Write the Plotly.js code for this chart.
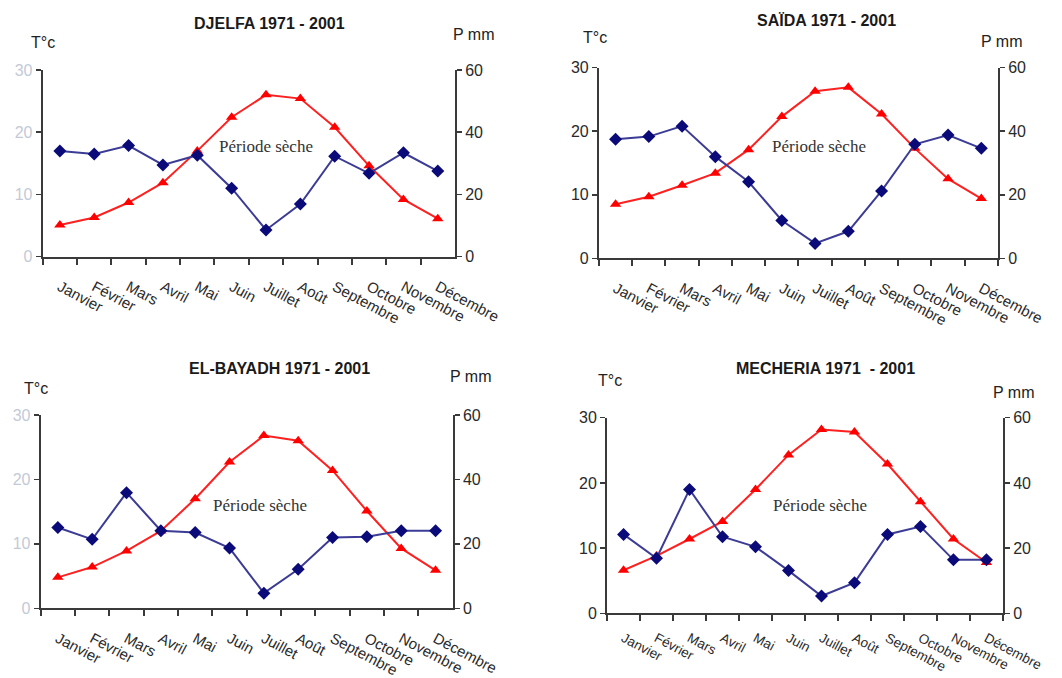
<!DOCTYPE html>
<html>
<head>
<meta charset="utf-8">
<script src="https://cdn.plot.ly/plotly-3.0.1.min.js"></script>
<style>html,body{margin:0;padding:0;background:#fff;}#chart{width:1062px;height:678px;}</style>
</head>
<body>
<div id="chart"></div>
<script>
const months = ["Janvier","Février","Mars","Avril","Mai","Juin","Juillet","Août","Septembre","Octobre","Novembre","Décembre"];

const titles = ["DJELFA 1971 - 2001","SAÏDA 1971 - 2001","EL-BAYADH 1971 - 2001","MECHERIA 1971  - 2001"];

// Temperature (°C, left axis)
const tempDjelfa   = [5.1, 6.3, 8.7, 11.9, 17.0, 22.4, 26.0, 25.4, 20.8, 14.6, 9.2, 6.1];
const tempSaida    = [8.5, 9.7, 11.5, 13.4, 17.1, 22.3, 26.3, 26.9, 22.7, 17.3, 12.5, 9.4];
const tempElBayadh = [4.8, 6.4, 8.9, 12.0, 17.0, 22.7, 26.8, 26.0, 21.4, 15.1, 9.3, 5.9];
const tempMecheria = [6.6, 8.8, 11.4, 14.1, 19.0, 24.3, 28.2, 27.8, 22.9, 17.1, 11.4, 7.8];

// Precipitation (mm, right axis)
const precDjelfa   = [34.0, 33.0, 35.7, 29.5, 32.6, 22.0, 8.6, 16.9, 32.3, 26.8, 33.4, 27.5];
const precSaida    = [37.5, 38.3, 41.6, 32.0, 24.1, 11.9, 4.7, 8.5, 21.2, 35.9, 38.8, 34.6];
const precElBayadh = [25.1, 21.4, 35.9, 24.1, 23.5, 18.7, 4.7, 12.1, 22.0, 22.2, 24.1, 24.1];
const precMecheria = [24.2, 16.9, 38.0, 23.5, 20.4, 13.1, 5.3, 9.4, 24.2, 26.6, 16.4, 16.4];

const tempTicks = [0, 10, 20, 30];
const precTicks = [0, 20, 40, 60];

const temps = [tempDjelfa, tempSaida, tempElBayadh, tempMecheria];
const precs = [precDjelfa, precSaida, precElBayadh, precMecheria];

// panel geometry (paper fractions)
const panels = [
  {x:[0.0402,0.4284], y:[0.6214,0.8968], leftCol:'#c3cad6', mSize:15, mStand:14,
   title:[0.254,0.966], tc:[0.0405,0.9366], pmm:[0.4463,0.9484], ps:[0.2505,0.7832]},
  {x:[0.5640,0.9397], y:[0.6190,0.9002], leftCol:'#2a2a2a', mSize:15, mStand:14,
   title:[0.778,0.970], tc:[0.5603,0.9454], pmm:[0.9435,0.9395], ps:[0.7712,0.7832]},
  {x:[0.0383,0.4263], y:[0.1028,0.3879], leftCol:'#c3cad6', mSize:15, mStand:14,
   title:[0.263,0.456], tc:[0.0339,0.4277], pmm:[0.4435,0.4440], ps:[0.2448,0.2537]},
  {x:[0.5716,0.9444], y:[0.0954,0.3839], leftCol:'#2a2a2a', mSize:13.5, mStand:10,
   title:[0.777,0.456], tc:[0.5744,0.4381], pmm:[0.9539,0.4218], ps:[0.7721,0.2537]}
];

const data = [];
const layout = {
  width:1062, height:678,
  margin:{l:0,r:0,t:0,b:0},
  paper_bgcolor:'#fff', plot_bgcolor:'rgba(0,0,0,0)',
  showlegend:false,
  font:{family:'Liberation Sans, Arial, sans-serif', color:'#2a2a2a'},
  annotations:[]
};

const axisLine = '#3a3a3a';

panels.forEach((p, i) => {
  const xa = 'x' + (i+1);
  const yl = 'y' + (2*i+1);
  const yr = 'y' + (2*i+2);
  const xKey = 'xaxis' + (i+1);
  const ylKey = 'yaxis' + (2*i+1);
  const yrKey = 'yaxis' + (2*i+2);

  data.push({
    x: months, y: precs[i], xaxis: xa, yaxis: yr, type:'scatter', mode:'lines+markers',
    line:{color:'#3c3c96', width:2},
    marker:{symbol:'diamond', size:10, color:'#0a0a78'},
    cliponaxis:false
  });
  data.push({
    x: months, y: temps[i], xaxis: xa, yaxis: yl, type:'scatter', mode:'lines+markers',
    line:{color:'#ff2020', width:2},
    marker:{symbol:'triangle-up', size:10, color:'#ff0000'},
    cliponaxis:false
  });

  layout[xKey] = {
    domain: p.x, anchor: yl, type:'category', range:[-0.5, 11.5],
    showline:true, linecolor:axisLine, linewidth:2,
    ticks:'outside', tickson:'boundaries', ticklen:6, tickwidth:2, tickcolor:axisLine,
    tickangle:28, ticklabelstandoff:p.mStand,
    tickfont:{size:p.mSize, color:'#2a2a2a'},
    showgrid:false, zeroline:false, fixedrange:true
  };
  layout[ylKey] = {
    domain: p.y, anchor: xa, range:[0,30],
    tickvals: tempTicks, ticktext: tempTicks.map(String),
    showline:true, linecolor:axisLine, linewidth:2,
    ticks:'outside', ticklen:5, tickwidth:1.5, tickcolor:axisLine,
    tickfont:{size:16, color:p.leftCol},
    showgrid:false, zeroline:false, fixedrange:true
  };
  layout[yrKey] = {
    domain: p.y, anchor: xa, overlaying: yl, side:'right', range:[0,60],
    tickvals: precTicks, ticktext: precTicks.map(String),
    showline:true, linecolor:axisLine, linewidth:2,
    ticks:'outside', ticklen:5, tickwidth:1.5, tickcolor:axisLine,
    tickfont:{size:16, color:'#2a2a2a'},
    showgrid:false, zeroline:false, fixedrange:true
  };

  layout.annotations.push(
    {xref:'paper', yref:'paper', x:p.title[0], y:p.title[1], text:'<b>'+titles[i]+'</b>',
     showarrow:false, font:{size:16, color:'#1a1a1a'}, xanchor:'center', yanchor:'middle'},
    {xref:'paper', yref:'paper', x:p.tc[0], y:p.tc[1], text:'T°c',
     showarrow:false, font:{size:16, color:'#222'}, xanchor:'center', yanchor:'middle'},
    {xref:'paper', yref:'paper', x:p.pmm[0], y:p.pmm[1], text:'P mm',
     showarrow:false, font:{size:16, color:'#222'}, xanchor:'center', yanchor:'middle'},
    {xref:'paper', yref:'paper', x:p.ps[0], y:p.ps[1], text:'Période sèche',
     showarrow:false, font:{size:17, color:'#333', family:'Liberation Serif, Times New Roman, serif'},
     xanchor:'center', yanchor:'middle'}
  );
});

Plotly.newPlot('chart', data, layout, {staticPlot:true, displayModeBar:false});
</script>
</body>
</html>
